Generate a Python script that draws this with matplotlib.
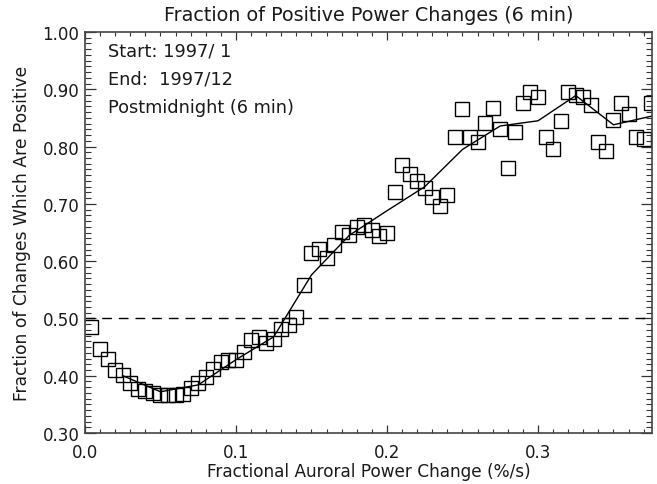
import matplotlib
matplotlib.use("Agg")
import matplotlib.pyplot as plt
from matplotlib.ticker import MultipleLocator, FormatStrFormatter

# Data
x_pts = [0.004, 0.010, 0.015, 0.020, 0.025, 0.030, 0.035, 0.040, 0.045, 0.050,
         0.055, 0.060, 0.065, 0.070, 0.075, 0.080, 0.085, 0.090, 0.095, 0.100,
         0.105, 0.110, 0.115, 0.120, 0.125, 0.130, 0.135, 0.140, 0.145, 0.150,
         0.155, 0.160, 0.165, 0.170, 0.175, 0.180, 0.185, 0.190, 0.195, 0.200,
         0.205, 0.210, 0.215, 0.220, 0.225, 0.230, 0.235, 0.240, 0.245, 0.250,
         0.255, 0.260, 0.265, 0.270, 0.275, 0.280, 0.285, 0.290, 0.295, 0.300,
         0.305, 0.310, 0.315, 0.320, 0.325, 0.330, 0.335, 0.340, 0.345, 0.350,
         0.355, 0.360, 0.365, 0.370, 0.375]
y_pts = [0.485, 0.447, 0.430, 0.410, 0.401, 0.387, 0.377, 0.373, 0.370, 0.367,
         0.367, 0.367, 0.368, 0.378, 0.387, 0.398, 0.412, 0.424, 0.428, 0.427,
         0.441, 0.462, 0.467, 0.457, 0.464, 0.482, 0.488, 0.503, 0.558, 0.614,
         0.622, 0.605, 0.628, 0.651, 0.645, 0.659, 0.663, 0.654, 0.644, 0.649,
         0.720, 0.768, 0.752, 0.740, 0.728, 0.712, 0.696, 0.715, 0.816, 0.865,
         0.816, 0.808, 0.841, 0.867, 0.830, 0.762, 0.826, 0.876, 0.895, 0.886,
         0.816, 0.795, 0.845, 0.895, 0.890, 0.886, 0.872, 0.808, 0.793, 0.847,
         0.876, 0.857, 0.816, 0.813, 0.876]

x_line = [0.025, 0.050, 0.075, 0.100, 0.125, 0.150, 0.175, 0.200, 0.225,
          0.250, 0.275, 0.300, 0.325, 0.350, 0.375]
y_line = [0.400, 0.372, 0.384, 0.428, 0.468, 0.576, 0.645, 0.688, 0.730,
          0.795, 0.836, 0.845, 0.889, 0.838, 0.853]

x_ticks = [0.0, 0.1, 0.2, 0.3]
y_ticks = [0.30, 0.40, 0.50, 0.60, 0.70, 0.80, 0.90, 1.00]
info_lines = ["Start: 1997/ 1", "End:  1997/12", "Postmidnight (6 min)"]

plt.rcParams['font.family'] = ['DejaVu Sans']
W, H = 657, 485
fig = plt.figure(figsize=(W / 100, H / 100), dpi=100)
ax = fig.add_axes([85 / W, (H - 434) / H, (652 - 85) / W, (434 - 33) / H])

ax.plot(x_pts, y_pts, linestyle='none', marker='s', markersize=10,
        markerfacecolor='none', markeredgecolor='black', markeredgewidth=1.0,
        clip_on=True)
ax.plot(x_line, y_line, color='black', linewidth=1.0)
ax.axhline(0.5, color='black', linewidth=1.0, dashes=(7, 5))

ax.set_xlim(0.0, 0.3755)
ax.set_ylim(0.30, 1.00)
ax.set_xticks(x_ticks)
ax.set_yticks(y_ticks)
ax.xaxis.set_major_formatter(FormatStrFormatter('%.1f'))
ax.yaxis.set_major_formatter(FormatStrFormatter('%.2f'))
ax.xaxis.set_minor_locator(MultipleLocator(0.01))
ax.yaxis.set_minor_locator(MultipleLocator(0.01))

txtc = '#1a1a1a'
ax.tick_params(axis='both', which='both', direction='in', top=True, right=True,
               labelsize=12, colors='#333333', labelcolor=txtc)
ax.tick_params(axis='x', which='major', length=6, width=0.9, pad=7)
ax.tick_params(axis='x', which='minor', length=3, width=0.8)
ax.tick_params(axis='y', which='major', length=8, width=0.9, pad=4)
ax.tick_params(axis='y', which='minor', length=4, width=0.8)
for s in ax.spines.values():
    s.set_linewidth(1.2)
    s.set_color('#444444')

ax.set_title("Fraction of Positive Power Changes (6 min)", fontsize=13.8,
             color=txtc, pad=9)
ax.set_xlabel("Fractional Auroral Power Change (%/s)", fontsize=12.2,
              color=txtc, labelpad=1)
ax.set_ylabel("Fraction of Changes Which Are Positive", fontsize=12.3,
              color=txtc, labelpad=8)

for i, t in enumerate(info_lines):
    fig.text(108 / W, 1 - (52 + 28 * i) / H, t, fontsize=12.8, color=txtc,
             ha='left', va='center')

fig.savefig("out.png", dpi=100)
